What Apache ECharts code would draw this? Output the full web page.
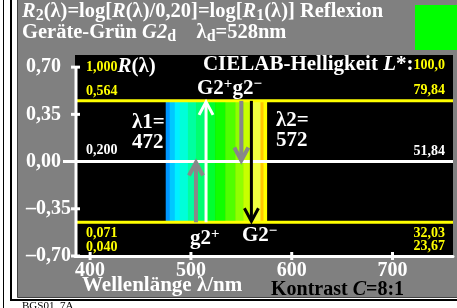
<!DOCTYPE html>
<html>
<head>
<meta charset="utf-8">
<script src="https://cdn.jsdelivr.net/npm/echarts@6/dist/echarts.min.js"></script>
<style>
  html, body { margin: 0; padding: 0; background: #fff; }
  #chart { width: 457px; height: 308px; }
</style>
</head>
<body>
<div id="chart"></div>
<script>
// Achsen: Wellenlaenge (nm) und log-Reflexion
const xTicks = [400, 500, 600, 700]
const yTicks = [0.70, 0.35, 0.00, -0.35, -0.70]

// Reflexionsstufen (oben, Mitte, unten) und CIELAB-Helligkeit
const levelR = [0.564, 0.200, 0.071]
const levelLogR = [0.45, 0.00, -0.45]
const levelL = [79.84, 51.84, 32.03]
const extraR = 0.040
const extraL = 23.67
const maxR = 1.000
const maxL = 100.0

// Spektralband zwischen lambda1 und lambda2
const lambda1 = 472
const lambda2 = 572
const bandEdges = [475, 479, 484, 489, 497, 505, 514, 524, 534, 544, 552, 560, 569, 572, 575]
const bandColors = ['#0096ff', '#00c8ff', '#00f0ff', '#00ffd8', '#00ffa0', '#00ff70', '#00ff30',
  '#10ff00', '#50ff00', '#90ff00', '#c8ff00', '#f0ff40', '#ffc800', '#ffff00']

// Pfeile G2+, g2-, g2+, G2-
const arrowLambda = [515, 550, 505, 560]
const arrowFrom = [-0.45, 0.45, -0.45, 0.45]
const arrowTo = [0.45, 0.00, 0.00, -0.45]

const F = '"Liberation Serif", "DejaVu Serif", serif'
const fmt = (v, d) => v.toFixed(d).replace('.', ',').replace('-', '–')

const rs = (size, extra) => Object.assign({ fontFamily: F, fontWeight: 'bold', fontSize: size, fill: '#fff' }, extra || {})

const txt = (x, y, text, rich, align) => ({
  type: 'text', x, y, z: 100,
  style: { text, rich, align: align || 'left', textAlign: align || 'left', verticalAlign: 'middle', textVerticalAlign: 'middle', font: 'bold 13px ' + F, fill: '#fff' }
})

const chart = echarts.init(document.getElementById('chart'))

const levelColors = ['#ffff00', '#ffffff', '#ffff00']
const arrowColors = ['#ffffff', '#888888', '#888888', '#000000']
const arrowWidths = [3, 4, 4, 3]
const yel = { fill: '#ffff00' }

const option = {
  animation: false,
  backgroundColor: '#fff',
  grid: { left: 75, right: 4, top: 55, bottom: 52, show: true, backgroundColor: '#000', borderWidth: 0 },
  xAxis: {
    type: 'value', min: 385, max: 760,
    axisLine: { show: true, onZero: false, lineStyle: { color: '#fff', width: 3 } },
    axisTick: { show: false },
    splitLine: { show: false },
    axisLabel: { customValues: xTicks, color: '#fff', fontFamily: F, fontWeight: 'bold', fontSize: 20, margin: 5, formatter: (v) => String(v) }
  },
  yAxis: {
    type: 'value', min: -0.70, max: 0.79,
    axisLine: { show: false },
    axisTick: { show: false },
    splitLine: { show: false },
    axisLabel: { customValues: yTicks, align: 'left', margin: 49, color: '#fff', fontFamily: F, fontWeight: 'bold', fontSize: 20, formatter: (v) => fmt(v, 2) }
  },
  series: [
    {
      // Spektralband
      type: 'custom', z: 2,
      data: bandColors.map((c, i) => [bandEdges[i], bandEdges[i + 1], levelLogR[0], levelLogR[2]]),
      renderItem: (params, api) => {
        const a = api.coord([api.value(0), api.value(2)])
        const b = api.coord([api.value(1), api.value(3)])
        return { type: 'rect', shape: { x: a[0], y: a[1], width: b[0] - a[0] + 0.6, height: b[1] - a[1] }, style: { fill: bandColors[params.dataIndex] } }
      }
    },
    {
      // Stufenlinien
      type: 'custom', z: 3,
      data: levelLogR.map((v) => [v]),
      renderItem: (params, api) => {
        const cs = params.coordSys
        const p = api.coord([385, api.value(0)])
        const x0 = params.dataIndex === 1 ? cs.x - 12 : cs.x
        return { type: 'line', shape: { x1: x0, y1: p[1], x2: cs.x + cs.width, y2: p[1] }, style: { stroke: levelColors[params.dataIndex], lineWidth: 3 } }
      }
    },
    {
      // y-Achsenlinie und Striche
      type: 'custom', z: 3,
      data: [[0]],
      renderItem: (params, api) => {
        const cs = params.coordSys
        const top = api.coord([385, yTicks[0]])
        const bot = api.coord([385, yTicks[yTicks.length - 1]])
        const ch = [{ type: 'line', shape: { x1: cs.x + 1, y1: top[1] - 1, x2: cs.x + 1, y2: bot[1] }, style: { stroke: '#fff', lineWidth: 3 } }]
        yTicks.filter((t) => t !== 0).forEach((t) => {
          const p = api.coord([385, t])
          ch.push({ type: 'line', shape: { x1: cs.x - 4, y1: p[1], x2: cs.x + 5, y2: p[1] }, style: { stroke: '#fff', lineWidth: 3 } })
        })
        xTicks.forEach((t) => {
          const p = api.coord([t, -0.70])
          ch.push({ type: 'line', shape: { x1: p[0], y1: p[1] - 4, x2: p[0], y2: p[1] + 4 }, style: { stroke: '#fff', lineWidth: 3 } })
        })
        return { type: 'group', children: ch }
      }
    },
    {
      // Pfeile
      type: 'custom', z: 4,
      data: arrowLambda.map((l, i) => [l, arrowFrom[i], arrowTo[i]]),
      renderItem: (params, api) => {
        const i = params.dataIndex
        const p0 = api.coord([api.value(0), api.value(1)])
        const p1 = api.coord([api.value(0), api.value(2)])
        const dir = p1[1] < p0[1] ? 1 : -1
        const c = arrowColors[i]
        const w = arrowWidths[i]
        return {
          type: 'group', children: [
            { type: 'line', shape: { x1: p0[0], y1: p0[1], x2: p1[0], y2: p1[1] + dir * 2 }, style: { stroke: c, lineWidth: w } },
            { type: 'polyline', shape: { points: [[p1[0] - 7, p1[1] + dir * 14], [p1[0], p1[1] + dir], [p1[0] + 7, p1[1] + dir * 14]] }, style: { stroke: c, lineWidth: w, fill: null } }
          ]
        }
      }
    }
  ],
  graphic: [
    // Rahmen
    { type: 'line', z: -100, shape: { x1: 3.5, y1: 0, x2: 3.5, y2: 308 }, style: { stroke: '#000', lineWidth: 1 } },
    { type: 'rect', z: -100, shape: { x: 10, y: 0, width: 2, height: 301 }, style: { fill: '#000' } },
    { type: 'rect', z: -100, shape: { x: 10, y: 299, width: 447, height: 2 }, style: { fill: '#000' } },
    { type: 'rect', z: -99, shape: { x: 17.5, y: -1, width: 441, height: 298.5 }, style: { fill: '#808080', stroke: '#404040', lineWidth: 1 } },
    { type: 'rect', z: 50, shape: { x: 415, y: 5, width: 42, height: 45 }, style: { fill: '#00ff00' } },
    // Titel
    txt(22, 12, '{i|R}{s|2}{n|(λ)=log[}{i|R}{n|(λ)/0,20]=log[}{i|R}{s|1}{n|(λ)] Reflexion}', {
      n: rs(20.5), i: rs(20.5, { fontStyle: 'italic' }), s: rs(16, { padding: [8, 0, 0, 0] })
    }),
    txt(22, 33, '{n|Geräte-Grün }{i|G2}{s|d}{n|    λ}{s|d}{n|=528nm}', {
      n: rs(20.5), i: rs(20.5, { fontStyle: 'italic' }), s: rs(16, { padding: [8, 0, 0, 0] })
    }),
    // Beschriftungen im Diagramm
    txt(86, 67, '{y|' + fmt(maxR, 3) + '}{i|R}{n|(λ)}', { y: rs(14, yel), i: rs(21, { fontStyle: 'italic' }), n: rs(21) }),
    txt(445, 65, '{n|CIELAB-Helligkeit }{i|L}{n|*:}{y|' + fmt(maxL, 1) + '}', { n: rs(21), i: rs(21, { fontStyle: 'italic' }), y: rs(14, yel) }, 'right'),
    txt(86, 91, '{y|' + fmt(levelR[0], 3) + '}', { y: rs(14, yel) }),
    txt(445, 90, '{y|' + fmt(levelL[0], 2) + '}', { y: rs(14, yel) }, 'right'),
    txt(197, 89, '{n|G2}{p|+}{n|g2}{p|−}', { n: rs(21), p: rs(15, { padding: [0, 0, 9, 0] }) }),
    txt(132, 123, '{n|λ1=}', { n: rs(21) }),
    txt(132, 143, '{n|' + lambda1 + '}', { n: rs(21) }),
    txt(276, 121, '{n|λ2=}', { n: rs(21) }),
    txt(276, 141, '{n|' + lambda2 + '}', { n: rs(21) }),
    txt(86, 150, '{n|' + fmt(levelR[1], 3) + '}', { n: rs(14) }),
    txt(445, 151, '{n|' + fmt(levelL[1], 2) + '}', { n: rs(14) }, 'right'),
    txt(86, 233, '{y|' + fmt(levelR[2], 3) + '}', { y: rs(14, yel) }),
    txt(86, 247, '{y|' + fmt(extraR, 3) + '}', { y: rs(14, yel) }),
    txt(445, 233, '{y|' + fmt(levelL[2], 2) + '}', { y: rs(14, yel) }, 'right'),
    txt(445, 246, '{y|' + fmt(extraL, 2) + '}', { y: rs(14, yel) }, 'right'),
    txt(190, 239, '{n|g2}{p|+}', { n: rs(21), p: rs(15, { padding: [0, 0, 9, 0] }) }),
    txt(242, 236, '{n|G2}{p|−}', { n: rs(21), p: rs(15, { padding: [0, 0, 9, 0] }) }),
    // Achsentitel
    txt(82, 286, '{n|Wellenlänge λ/nm}', { n: rs(21) }),
    txt(271, 290, '{n|Kontrast }{i|C}{n|=8:1}', { n: rs(20, { fill: '#000' }), i: rs(20, { fill: '#000', fontStyle: 'italic' }) }),
    txt(22, 306, '{n|BGS01_7A}', { n: { fontFamily: F, fontSize: 11, fill: '#000' } })
  ]
}

chart.setOption(option)
</script>
</body>
</html>
